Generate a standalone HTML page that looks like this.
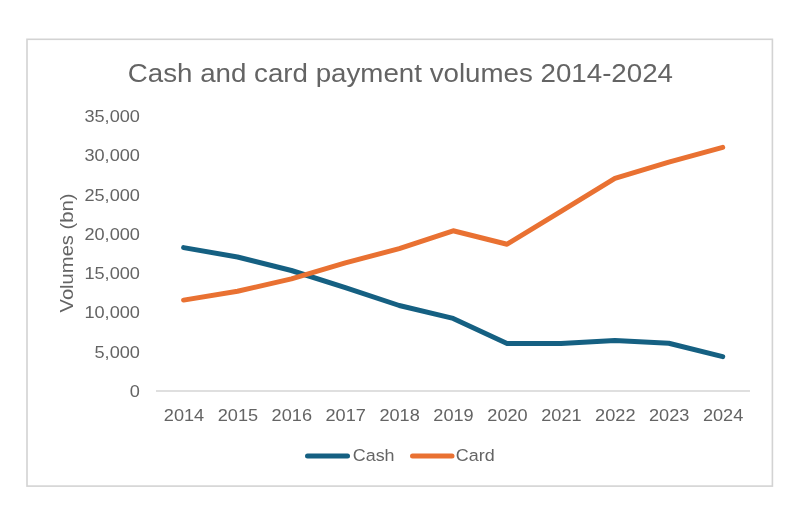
<!DOCTYPE html>
<html><head><meta charset="utf-8"><style>
html,body{margin:0;padding:0;background:#fff;width:800px;height:526px;overflow:hidden}
svg{display:block;will-change:transform}
text{font-family:"Liberation Sans",sans-serif;fill:#646464}
</style></head><body>
<svg width="800" height="526" viewBox="0 0 800 526">
<rect x="27.0" y="39.3" width="745.4" height="446.8" fill="#fff" stroke="#d3d3d3" stroke-width="1.6"/>
<text transform="translate(400.4,81.8) scale(1.066,1)" text-anchor="middle" font-size="26">Cash and card payment volumes 2014-2024</text>
<g font-size="16.5">
<text x="0" y="0" transform="translate(139.9,121.9) scale(1.1,1)" text-anchor="end">35,000</text>
<text x="0" y="0" transform="translate(139.9,161.2) scale(1.1,1)" text-anchor="end">30,000</text>
<text x="0" y="0" transform="translate(139.9,200.5) scale(1.1,1)" text-anchor="end">25,000</text>
<text x="0" y="0" transform="translate(139.9,239.8) scale(1.1,1)" text-anchor="end">20,000</text>
<text x="0" y="0" transform="translate(139.9,279.1) scale(1.1,1)" text-anchor="end">15,000</text>
<text x="0" y="0" transform="translate(139.9,318.4) scale(1.1,1)" text-anchor="end">10,000</text>
<text x="0" y="0" transform="translate(139.9,357.7) scale(1.1,1)" text-anchor="end">5,000</text>
<text x="0" y="0" transform="translate(139.9,397.0) scale(1.1,1)" text-anchor="end">0</text>

<text x="0" y="0" transform="translate(184.0,421) scale(1.1,1)" text-anchor="middle">2014</text>
<text x="0" y="0" transform="translate(237.9,421) scale(1.1,1)" text-anchor="middle">2015</text>
<text x="0" y="0" transform="translate(291.8,421) scale(1.1,1)" text-anchor="middle">2016</text>
<text x="0" y="0" transform="translate(345.7,421) scale(1.1,1)" text-anchor="middle">2017</text>
<text x="0" y="0" transform="translate(399.6,421) scale(1.1,1)" text-anchor="middle">2018</text>
<text x="0" y="0" transform="translate(453.5,421) scale(1.1,1)" text-anchor="middle">2019</text>
<text x="0" y="0" transform="translate(507.5,421) scale(1.1,1)" text-anchor="middle">2020</text>
<text x="0" y="0" transform="translate(561.4,421) scale(1.1,1)" text-anchor="middle">2021</text>
<text x="0" y="0" transform="translate(615.3,421) scale(1.1,1)" text-anchor="middle">2022</text>
<text x="0" y="0" transform="translate(669.2,421) scale(1.1,1)" text-anchor="middle">2023</text>
<text x="0" y="0" transform="translate(723.1,421) scale(1.1,1)" text-anchor="middle">2024</text>

</g>
<text transform="translate(72.9,253) rotate(-90) scale(1.075,1)" text-anchor="middle" font-size="18.8">Volumes (bn)</text>
<line x1="156" y1="391" x2="750" y2="391" stroke="#d5d5d5" stroke-width="1.6"/>
<polyline points="183.6,247.6 237.51,257.0 291.41999999999996,270.5 345.33,287.7 399.24,305.5 453.15,318.4 507.05999999999995,343.4 560.97,343.4 614.88,340.5 668.79,343.2 722.6999999999999,356.6" fill="none" stroke="#156082" stroke-width="5" stroke-linecap="round" stroke-linejoin="round"/>
<polyline points="183.6,300.1 237.51,291.3 291.41999999999996,278.9 345.33,262.9 399.24,248.6 453.15,230.8 507.05999999999995,244.2 560.97,211.4 614.88,178.4 668.79,162.1 722.6999999999999,147.4" fill="none" stroke="#E97132" stroke-width="5" stroke-linecap="round" stroke-linejoin="round"/>
<line x1="307.5" y1="456" x2="347.5" y2="456" stroke="#156082" stroke-width="5" stroke-linecap="round"/>
<text transform="translate(352.8,461.4) scale(1.085,1)" font-size="16.5">Cash</text>
<line x1="412.5" y1="456" x2="452" y2="456" stroke="#E97132" stroke-width="5" stroke-linecap="round"/>
<text transform="translate(455.8,461.4) scale(1.085,1)" font-size="16.5">Card</text>
</svg>
</body></html>
